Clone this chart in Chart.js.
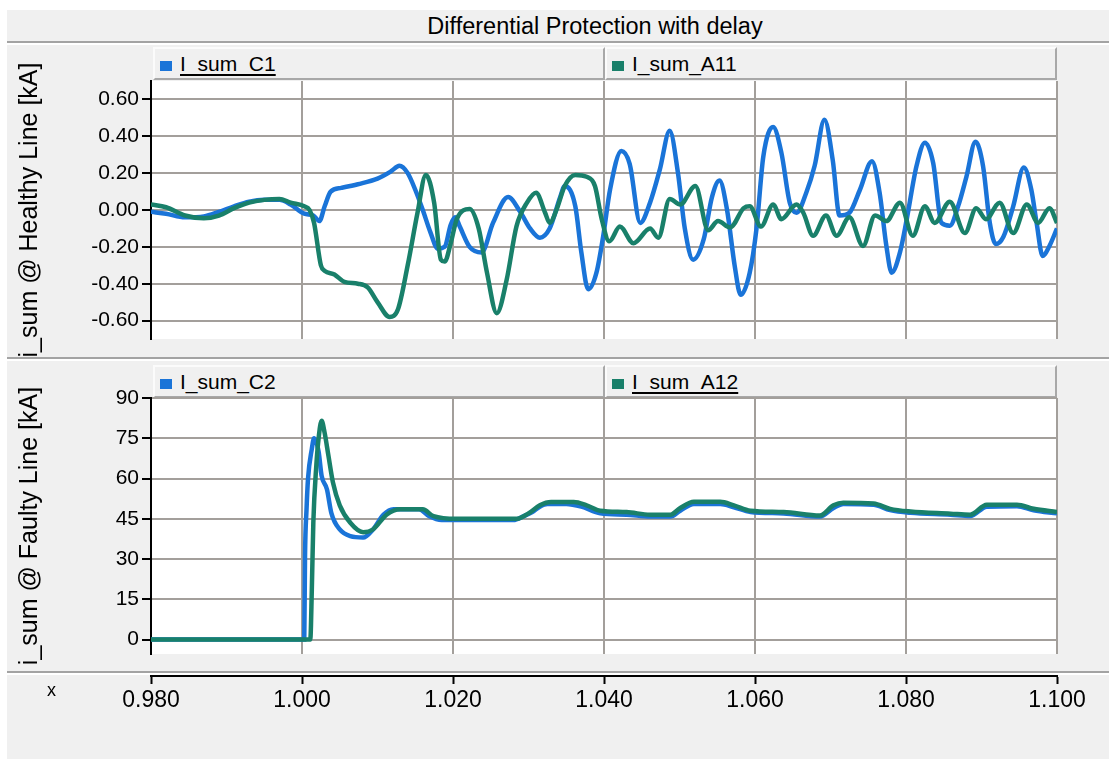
<!DOCTYPE html>
<html>
<head>
<meta charset="utf-8">
<title>Differential Protection with delay</title>
<script src="https://cdn.jsdelivr.net/npm/chart.js@4"></script>
<style>
    body { margin: 0; width: 1109px; height: 759px; overflow: hidden; position: relative; background: #fff;
           font-family: Arial, "Liberation Sans", sans-serif; color: #000; }
    #frame { position: absolute; left: 7px; top: 10px; right: 0; bottom: 0; background: #f0f0f0; }
    #title { position: absolute; top: 13px; left: 595px; transform: translateX(-50%); font-size: 23.5px; white-space: nowrap; }
    .sep { position: absolute; left: 7px; right: 0; height: 2px; background: #a3a3a3; border-bottom: 2px solid #fff; }
    .legend { position: absolute; left: 153px; width: 904px; height: 33px; display: flex; }
    .legend .cell { box-sizing: border-box; width: 452px; height: 33px; display: flex; align-items: center; padding-left: 5px;
                    border-top: 2px solid #fbfbfb; border-left: 2px solid #fbfbfb; border-right: 2px solid #a8a8a8;
                    border-bottom: 2px solid #a8a8a8; font-size: 21px; white-space: nowrap; }
    .legend .box { width: 12px; height: 10px; margin-right: 8px; margin-top: 4px; }
    .legend .sel { text-decoration: underline; text-decoration-thickness: 2px; text-underline-offset: 3px; }
    #xName { position: absolute; left: 47px; top: 680px; font-size: 18px; }
    canvas { position: absolute; left: 0; }
</style>
</head>
<body>
<div id="frame"></div>
<div id="title">Differential Protection with delay</div>
<div class="sep" style="top:41px"></div>
<div class="sep" style="top:357px"></div>
<div class="sep" style="top:671px"></div>
<div class="legend" id="legendHealthy" style="top:47px"></div>
<div class="legend" id="legendFaulty" style="top:365px"></div>
<canvas id="healthyChart" width="1109" height="298" style="top:61px"></canvas>
<canvas id="faultyChart" width="1109" height="296" style="top:378px"></canvas>
<canvas id="timeAxis" width="1109" height="70" style="top:668px"></canvas>
<div id="xName">x</div>
<script>
'use strict';

// Axis ticks
const xTicks = [0.98, 1.00, 1.02, 1.04, 1.06, 1.08, 1.10];
const yTicksHealthy = [-0.6, -0.4, -0.2, 0, 0.2, 0.4, 0.6];
const yTicksFaulty = [0, 15, 30, 45, 60, 75, 90];

const seriesHealthy = ['I_sum_C1', 'I_sum_A11'];
const seriesFaulty = ['I_sum_C2', 'I_sum_A12'];

// Healthy line, I_sum_C1 [kA]
const tHealthyC1 = [0.980, 0.982, 0.9845, 0.987, 0.989, 0.991, 0.993, 0.995, 0.997, 0.9985,
    1.0003, 1.0015, 1.0023, 1.003, 1.0038, 1.0052, 1.0074, 1.010, 1.0118, 1.0129,
    1.014, 1.015, 1.016, 1.017, 1.018, 1.0189, 1.0197, 1.0203, 1.0209, 1.0222,
    1.0238, 1.0253, 1.0273, 1.0289, 1.0302, 1.0315, 1.0328, 1.0342, 1.0348, 1.0362,
    1.037, 1.0379, 1.039, 1.0399, 1.0408, 1.0423, 1.0434, 1.0448, 1.0461, 1.0474,
    1.0487, 1.0498, 1.0507, 1.0518, 1.0532, 1.0543, 1.0553, 1.0563, 1.0573, 1.0581,
    1.0593, 1.0602, 1.0611, 1.0624, 1.0635, 1.0646, 1.0655, 1.0668, 1.0679, 1.0692,
    1.0703, 1.0712, 1.0725, 1.0739, 1.0755, 1.0765, 1.0774, 1.0781, 1.0792, 1.0801,
    1.0814, 1.0825, 1.0836, 1.0847, 1.0858, 1.0869, 1.088, 1.0892, 1.0902, 1.0911,
    1.0919, 1.0929, 1.0942, 1.0956, 1.0966, 1.0973, 1.0981, 1.099, 1.100];
const iHealthyC1 = [-0.01, -0.02, -0.04, -0.035, -0.01, 0.02, 0.045, 0.055, 0.055, 0.03,
    -0.02, -0.03, -0.06, 0.02, 0.10, 0.12, 0.14, 0.17, 0.21, 0.24,
    0.20, 0.11, 0.0, -0.12, -0.21, -0.20, -0.08, -0.04, -0.09, -0.20,
    -0.23, -0.07, 0.07, -0.01, -0.10, -0.15, -0.10, 0.07, 0.13, 0.02,
    -0.23, -0.43, -0.34, -0.14, 0.11, 0.32, 0.25, -0.07, 0.04, 0.22,
    0.43, 0.20, -0.10, -0.27, -0.16, 0.07, 0.16, 0.0, -0.30, -0.46,
    -0.34, -0.10, 0.29, 0.45, 0.31, 0.04, -0.015, 0.095, 0.24, 0.49,
    0.27, -0.03, -0.015, 0.11, 0.265, 0.095, -0.195, -0.34, -0.23, -0.05,
    0.24, 0.365, 0.255, -0.07, -0.085, 0.02, 0.18, 0.37, 0.24, -0.07,
    -0.185, -0.145, 0.02, 0.23, 0.11, -0.07, -0.25, -0.195, -0.10];

// Healthy line, I_sum_A11 [kA]
const tHealthyA11 = [0.980, 0.982, 0.9845, 0.987, 0.989, 0.991, 0.993, 0.995, 0.997, 0.9985,
    1.0003, 1.001, 1.0016, 1.0025, 1.003, 1.0043, 1.0056, 1.0074, 1.0087, 1.010,
    1.0116, 1.0127, 1.014, 1.0153, 1.0164, 1.0175, 1.0184, 1.0189, 1.0197, 1.0205,
    1.0222, 1.0234, 1.0245, 1.0258, 1.0271, 1.0284, 1.0298, 1.031, 1.0322, 1.0328,
    1.0337, 1.0348, 1.0362, 1.0377, 1.0388, 1.0397, 1.0407, 1.0421, 1.0439, 1.0461,
    1.0472, 1.0487, 1.0501, 1.0521, 1.0538, 1.0551, 1.0567, 1.0585, 1.0593, 1.0608,
    1.0624, 1.0635, 1.0655, 1.0664, 1.0677, 1.0694, 1.0708, 1.0725, 1.0743, 1.0759,
    1.0774, 1.0792, 1.0809, 1.0825, 1.0838, 1.0858, 1.0878, 1.0893, 1.0906, 1.0924,
    1.0942, 1.096, 1.0975, 1.099, 1.100];
const iHealthyA11 = [0.03, 0.015, -0.03, -0.045, -0.03, 0.01, 0.04, 0.055, 0.06, 0.04,
    0.02, 0.0, -0.07, -0.30, -0.33, -0.35, -0.39, -0.40, -0.42, -0.50,
    -0.58, -0.54, -0.30, -0.015, 0.19, 0.04, -0.27, -0.28, -0.18, -0.05,
    0.005, -0.10, -0.34, -0.56, -0.38, -0.09, 0.04, 0.094, -0.015, -0.07,
    0.0, 0.13, 0.19, 0.18, 0.13, -0.05, -0.17, -0.09, -0.18, -0.10,
    -0.15, 0.06, 0.03, 0.13, -0.11, -0.06, -0.095, 0.01, 0.02, -0.09,
    0.03, -0.05, 0.03, -0.015, -0.14, -0.03, -0.14, -0.04, -0.195, -0.03,
    -0.06, 0.04, -0.14, 0.02, -0.07, 0.045, -0.125, 0.01, -0.05, 0.04,
    -0.125, 0.03, -0.07, 0.01, -0.07];

// Faulty line, I_sum_C2 [kA]
const tFaultyC2 = [0.980, 1.0003, 1.0004, 1.0006, 1.0008, 1.0013, 1.0016, 1.0022, 1.0026, 1.0033,
    1.0039, 1.005, 1.0064, 1.0081, 1.0094, 1.0108, 1.0121, 1.0155, 1.0168, 1.0185,
    1.022, 1.028, 1.0294, 1.0305, 1.0315, 1.0325, 1.035, 1.037, 1.0395, 1.043,
    1.0461, 1.0488, 1.0501, 1.0519, 1.0554, 1.0572, 1.0594, 1.0638, 1.0686, 1.0704,
    1.0717, 1.0757, 1.0779, 1.0806, 1.0859, 1.0885, 1.0907, 1.0947, 1.0969, 1.100];
const iFaultyC2 = [0, 0, 31, 48.5, 60, 71, 75, 70, 61, 56,
    47, 41, 38.5, 38, 41, 46.5, 48.5, 48.5, 46, 44.5,
    44.5, 44.5, 46, 47.5, 49.5, 50.5, 50.5, 49.5, 47, 46.5,
    45.8, 45.8, 48, 50.5, 50.5, 49.3, 47.5, 47, 45.8, 49,
    50.5, 50.2, 48.2, 47.2, 46.5, 46, 49.5, 49.7, 48.2, 47];

// Faulty line, I_sum_A12 [kA]
const tFaultyA12 = [0.980, 1.0011, 1.0013, 1.0015, 1.0019, 1.0022, 1.0026, 1.003, 1.0035, 1.0041,
    1.005, 1.0064, 1.0081, 1.0094, 1.0112, 1.013, 1.016, 1.0174, 1.0205, 1.0285,
    1.030, 1.0315, 1.033, 1.036, 1.0377, 1.0395, 1.043, 1.0461, 1.0488, 1.0501,
    1.0519, 1.0554, 1.0572, 1.0594, 1.0638, 1.0686, 1.0704, 1.0717, 1.0757, 1.0779,
    1.0806, 1.0859, 1.0885, 1.0907, 1.0947, 1.0969, 1.100];
const iFaultyA12 = [0, 0, 18.5, 43.5, 65, 75, 81.5, 77, 68.5, 58.5,
    50, 43.5, 40, 41, 46.5, 48.5, 48.5, 46, 45, 45,
    47, 50, 51.2, 51.2, 50, 48, 47.5, 46.5, 46.5, 49,
    51.3, 51.3, 50, 48, 47.5, 46.2, 50, 51, 50.7, 48.7,
    47.7, 46.9, 46.5, 50.2, 50.2, 48.7, 47.5];

const COLORS = ['#1a74d8', '#19806a'];
const GRID = '#a39f9b';
const FONT = 'Arial, "Liberation Sans", sans-serif';

Chart.defaults.font.family = FONT;
Chart.defaults.color = '#000';

// white plotting area behind the grid
const plotBackground = {
    id: 'plotBackground',
    beforeDraw(chart) {
        const {ctx, chartArea: a} = chart;
        ctx.save();
        ctx.fillStyle = '#fff';
        ctx.fillRect(a.left, a.top, a.right - a.left, a.bottom - a.top);
        ctx.restore();
    }
};

let points = (times, values) => times.map((t, i) => ({x: t, y: values[i]}));

let legendBar = (id, names, selected) => {
    const bar = document.getElementById(id);
    names.forEach((name, i) => {
        const cell = document.createElement('div');
        cell.className = 'cell';
        const box = document.createElement('span');
        box.className = 'box';
        box.style.background = COLORS[i];
        const label = document.createElement('span');
        label.textContent = name;
        if (i === selected) label.className = 'sel';
        cell.appendChild(box);
        cell.appendChild(label);
        bar.appendChild(cell);
    });
};

let panelChart = (id, names, series, yTicks, yMin, yMax, yTitle, digits) => {
    const datasets = series.map((s, i) => ({
        label: names[i],
        data: points(s[0], s[1]),
        borderColor: COLORS[i],
        backgroundColor: COLORS[i],
        borderWidth: 4.5,
        pointRadius: 0,
        order: series.length - i,
        cubicInterpolationMode: 'monotone'
    }));
    return new Chart(document.getElementById(id), {
        type: 'line',
        data: {datasets},
        options: {
            responsive: false,
            animation: false,
            devicePixelRatio: 1,
            events: [],
            layout: {padding: {top: 20, bottom: 20, left: 0, right: 52}},
            plugins: {legend: {display: false}, tooltip: {enabled: false}},
            scales: {
                x: {
                    type: 'linear',
                    min: 0.98,
                    max: 1.10,
                    afterBuildTicks: s => { s.ticks = xTicks.map(v => ({value: v})); },
                    afterFit: s => { s.height = 0; },
                    grid: {color: GRID, lineWidth: 2, drawTicks: false},
                    border: {display: false},
                    ticks: {display: false}
                },
                y: {
                    min: yMin,
                    max: yMax,
                    afterBuildTicks: s => { s.ticks = yTicks.map(v => ({value: v})); },
                    afterFit: s => { s.width = 151; },
                    grid: {color: GRID, lineWidth: 2, tickColor: '#000', tickLength: 9, tickWidth: 2},
                    border: {color: '#000', width: 2},
                    ticks: {font: {size: 21}, padding: 3, callback: v => v.toFixed(digits)},
                    title: {display: true, text: yTitle, font: {size: 25}, padding: {top: 15, bottom: 0}}
                }
            }
        },
        plugins: [plotBackground]
    });
};

let timeAxis = () => {
    new Chart(document.getElementById('timeAxis'), {
        type: 'line',
        data: {datasets: []},
        options: {
            responsive: false,
            animation: false,
            devicePixelRatio: 1,
            events: [],
            layout: {padding: {top: 0, bottom: 0, left: 151, right: 52}},
            plugins: {legend: {display: false}, tooltip: {enabled: false}},
            scales: {
                x: {
                    type: 'linear',
                    position: 'bottom',
                    min: 0.98,
                    max: 1.10,
                    afterBuildTicks: s => { s.ticks = xTicks.map(v => ({value: v})); },
                    afterFit: s => { s.height = 62; },
                    grid: {drawOnChartArea: false, tickColor: '#000', tickLength: 8, tickWidth: 2},
                    border: {color: '#000', width: 2},
                    ticks: {font: {size: 23}, padding: 3, maxRotation: 0, autoSkip: false, callback: v => v.toFixed(3)}
                },
                y: {display: false}
            }
        }
    });
};

window.onload = () => {
    legendBar('legendHealthy', seriesHealthy, 0);
    legendBar('legendFaulty', seriesFaulty, 1);
    panelChart('healthyChart', seriesHealthy,
        [[tHealthyC1, iHealthyC1], [tHealthyA11, iHealthyA11]],
        yTicksHealthy, -0.7, 0.7, 'i_sum @ Healthy Line [kA]', 2);
    panelChart('faultyChart', seriesFaulty,
        [[tFaultyC2, iFaultyC2], [tFaultyA12, iFaultyA12]],
        yTicksFaulty, -5.4, 90, 'i_sum @ Faulty Line [kA]', 0);
    timeAxis();
};
</script>
</body>
</html>
